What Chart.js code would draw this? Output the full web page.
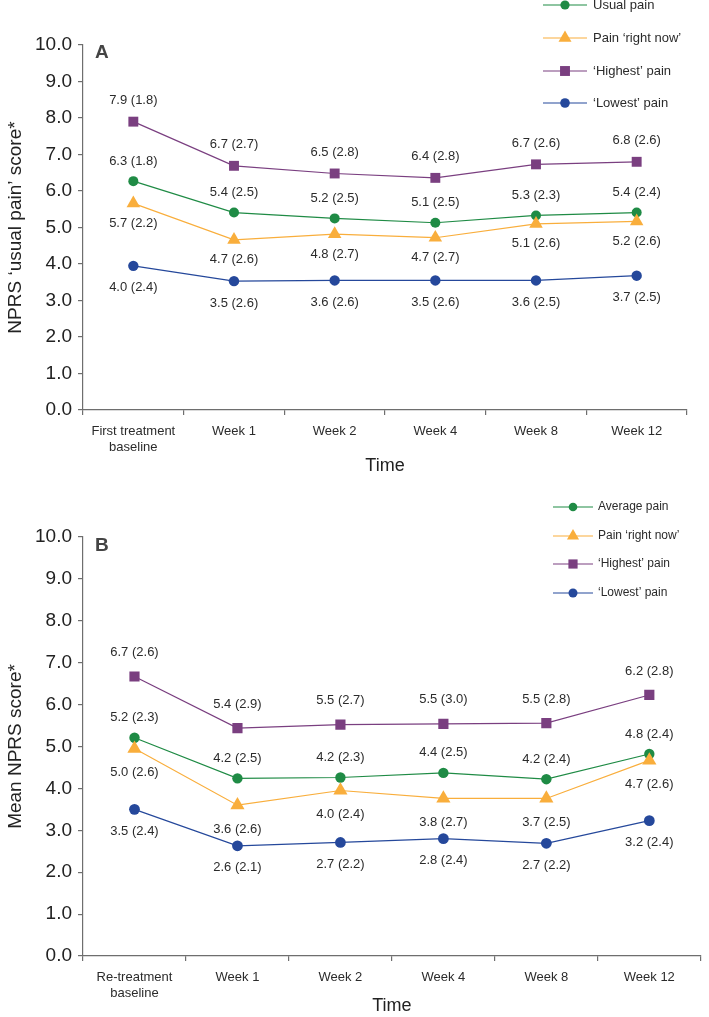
<!DOCTYPE html>
<html>
<head>
<meta charset="utf-8">
<script src="https://cdn.jsdelivr.net/npm/chart.js@4.4.1/dist/chart.umd.min.js"></script>
<style>
  html, body { margin: 0; padding: 0; background: #fff; }
  #wrap { position: relative; width: 709px; height: 1017px; overflow: hidden; }
  canvas { position: absolute; left: 0; }
</style>
</head>
<body>
<div id="wrap">
  <canvas id="cA" width="709" height="490" style="top:0px"></canvas>
  <canvas id="cB" width="709" height="527" style="top:490px"></canvas>
</div>
<script>
// ---------- DATA ----------
const categoriesA = [['First treatment', 'baseline'], 'Week 1', 'Week 2', 'Week 4', 'Week 8', 'Week 12'];
const categoriesB = [['Re-treatment', 'baseline'], 'Week 1', 'Week 2', 'Week 4', 'Week 8', 'Week 12'];
const yTicks = [0, 1, 2, 3, 4, 5, 6, 7, 8, 9, 10];

// Panel A
const usualA      = [6.27, 5.41, 5.25, 5.13, 5.33, 5.41];
const usualA_lbl  = ['6.3', '5.4', '5.2', '5.1', '5.3', '5.4'];
const usualA_sd   = ['1.8', '2.5', '2.5', '2.5', '2.3', '2.4'];
const nowA        = [5.66, 4.66, 4.82, 4.72, 5.10, 5.17];
const nowA_lbl    = ['5.7', '4.7', '4.8', '4.7', '5.1', '5.2'];
const nowA_sd     = ['2.2', '2.6', '2.7', '2.7', '2.6', '2.6'];
const highA       = [7.90, 6.69, 6.48, 6.36, 6.73, 6.80];
const highA_lbl   = ['7.9', '6.7', '6.5', '6.4', '6.7', '6.8'];
const highA_sd    = ['1.8', '2.7', '2.8', '2.8', '2.6', '2.6'];
const lowA        = [3.95, 3.53, 3.55, 3.55, 3.55, 3.68];
const lowA_lbl    = ['4.0', '3.5', '3.6', '3.5', '3.6', '3.7'];
const lowA_sd     = ['2.4', '2.6', '2.6', '2.6', '2.5', '2.5'];

// Panel B
const avgB        = [5.21, 4.24, 4.26, 4.37, 4.22, 4.82];
const avgB_lbl    = ['5.2', '4.2', '4.2', '4.4', '4.2', '4.8'];
const avgB_sd     = ['2.3', '2.5', '2.3', '2.5', '2.4', '2.4'];
const nowB        = [4.95, 3.60, 3.95, 3.76, 3.76, 4.67];
const nowB_lbl    = ['5.0', '3.6', '4.0', '3.8', '3.7', '4.7'];
const nowB_sd     = ['2.6', '2.6', '2.4', '2.7', '2.5', '2.6'];
const highB       = [6.67, 5.44, 5.52, 5.54, 5.56, 6.23];
const highB_lbl   = ['6.7', '5.4', '5.5', '5.5', '5.5', '6.2'];
const highB_sd    = ['2.6', '2.9', '2.7', '3.0', '2.8', '2.8'];
const lowB        = [3.50, 2.63, 2.71, 2.80, 2.69, 3.23];
const lowB_lbl    = ['3.5', '2.6', '2.7', '2.8', '2.7', '3.2'];
const lowB_sd     = ['2.4', '2.1', '2.2', '2.4', '2.2', '2.4'];

// ---------- STYLE ----------
const FONT = "'Liberation Sans', Arial, Helvetica, sans-serif";
const GREEN = '#1f8b45', ORANGE = '#f9ae3c', PURPLE = '#7a3f80', BLUE = '#25489b';
const AXIS = '#6e6e6e', TEXT = '#2b2b2b';

function drawMarker(ctx, style, x, y, r, color) {
  ctx.save();
  ctx.fillStyle = color;
  ctx.beginPath();
  if (style === 'circle') {
    ctx.arc(x, y, r, 0, Math.PI * 2);
  } else if (style === 'rect') {
    const s = r / Math.SQRT2;
    ctx.rect(x - s, y - s, 2 * s, 2 * s);
  } else if (style === 'triangle') {
    ctx.moveTo(x, y - r);
    ctx.lineTo(x + r * Math.sin(Math.PI * 2 / 3), y - r * Math.cos(Math.PI * 2 / 3));
    ctx.lineTo(x + r * Math.sin(Math.PI * 4 / 3), y - r * Math.cos(Math.PI * 4 / 3));
    ctx.closePath();
  }
  ctx.fill();
  ctx.restore();
}

function makeDataset(label, data, color, style, radius, order, lbls, sds, offset) {
  return {
    label, data,
    borderColor: color, backgroundColor: color,
    pointBackgroundColor: color, pointBorderColor: color,
    pointStyle: style, pointRadius: radius, pointHoverRadius: radius,
    pointBorderWidth: 0, borderWidth: 1.2, tension: 0, order,
    valueLabels: lbls, sdLabels: sds, labelOffset: offset
  };
}

const extrasPlugin = {
  id: 'extras',
  afterDatasetsDraw(chart, args, opts) {
    const ctx = chart.ctx;
    // value labels
    ctx.save();
    ctx.font = '13px ' + FONT;
    ctx.fillStyle = TEXT;
    ctx.textAlign = 'center';
    ctx.textBaseline = 'middle';
    chart.data.datasets.forEach((ds, i) => {
      const meta = chart.getDatasetMeta(i);
      meta.data.forEach((pt, j) => {
        ctx.fillText(ds.valueLabels[j] + ' (' + ds.sdLabels[j] + ')', pt.x, pt.y + ds.labelOffset);
      });
    });
    ctx.restore();
    // panel letter
    ctx.save();
    ctx.font = 'bold 19px ' + FONT;
    ctx.fillStyle = '#444';
    ctx.textAlign = 'left';
    ctx.textBaseline = 'middle';
    ctx.fillText(opts.letter, opts.letterX, opts.letterY);
    ctx.restore();
    // legend
    const L = opts.legend;
    ctx.save();
    ctx.font = L.font + 'px ' + FONT;
    ctx.textAlign = 'left';
    ctx.textBaseline = 'middle';
    L.items.forEach((it, k) => {
      const y = L.ys[k];
      ctx.strokeStyle = it.color;
      ctx.lineWidth = 1.2;
      ctx.beginPath();
      ctx.moveTo(L.x0, y); ctx.lineTo(L.x1, y); ctx.stroke();
      drawMarker(ctx, it.style, (L.x0 + L.x1) / 2, y, it.r, it.color);
      ctx.fillStyle = TEXT;
      ctx.fillText(it.text, L.tx, y);
    });
    ctx.restore();
  }
};

function makeOptions(cfg) {
  return {
    responsive: false,
    animation: false,
    devicePixelRatio: 1,
    layout: { padding: { top: cfg.padTop, right: cfg.padRight, left: 0, bottom: 0 } },
    plugins: {
      legend: { display: false },
      tooltip: { enabled: false },
      extras: cfg.extras
    },
    scales: {
      x: {
        type: 'category',
        offset: true,
        grid: { offset: true, drawOnChartArea: false, drawTicks: true, tickLength: 5, color: AXIS, lineWidth: 1.2 },
        border: { color: AXIS, width: 1.2 },
        ticks: { font: { family: FONT, size: 13 }, color: TEXT, padding: 9, maxRotation: 0, autoSkip: false },
        title: { display: true, text: 'Time', font: { family: FONT, size: 18 }, color: '#222', padding: { top: 0, bottom: cfg.timePad } },
        afterFit(scale) { scale.height = cfg.xHeight; }
      },
      y: {
        min: 0, max: 10,
        afterBuildTicks(scale) { scale.ticks = yTicks.map(v => ({ value: v })); },
        grid: { drawOnChartArea: false, drawTicks: true, tickLength: 5, color: AXIS, lineWidth: 1.2 },
        border: { color: AXIS, width: 1.2 },
        ticks: { font: { family: FONT, size: 19 }, color: '#222', padding: 6, callback: v => Number(v).toFixed(1) },
        title: { display: true, text: cfg.yTitle, font: { family: FONT, size: 19 }, color: '#222', padding: { top: 4, bottom: 0 } },
        afterFit(scale) { scale.width = 83; }
      }
    }
  };
}

// ---------- CHART A ----------
new Chart(document.getElementById('cA'), {
  type: 'line',
  data: {
    labels: categoriesA,
    datasets: [
      makeDataset('Usual pain', usualA, GREEN, 'circle', 5, 1, usualA_lbl, usualA_sd, -20),
      makeDataset('Pain ‘right now’', nowA, ORANGE, 'triangle', 7.8, 0, nowA_lbl, nowA_sd, 20),
      makeDataset('‘Highest’ pain', highA, PURPLE, 'rect', 7, 2, highA_lbl, highA_sd, -21),
      makeDataset('‘Lowest’ pain', lowA, BLUE, 'circle', 5.2, 2, lowA_lbl, lowA_sd, 22)
    ]
  },
  options: makeOptions({
    padTop: 45, padRight: 22, xHeight: 80, timePad: 13,
    yTitle: 'NPRS ‘usual pain’ score*',
    extras: {
      letter: 'A', letterX: 95, letterY: 53,
      legend: {
        font: 13, x0: 543, x1: 587, tx: 593, ys: [5, 38, 71, 103],
        items: [
          { text: 'Usual pain', color: GREEN, style: 'circle', r: 4.6 },
          { text: 'Pain ‘right now’', color: ORANGE, style: 'triangle', r: 7.5 },
          { text: '‘Highest’ pain', color: PURPLE, style: 'rect', r: 7 },
          { text: '‘Lowest’ pain', color: BLUE, style: 'circle', r: 4.8 }
        ]
      }
    }
  }),
  plugins: [extrasPlugin]
});

// ---------- CHART B ----------
new Chart(document.getElementById('cB'), {
  type: 'line',
  data: {
    labels: categoriesB,
    datasets: [
      makeDataset('Average pain', avgB, GREEN, 'circle', 5.2, 1, avgB_lbl, avgB_sd, -20),
      makeDataset('Pain ‘right now’', nowB, ORANGE, 'triangle', 8.2, 0, nowB_lbl, nowB_sd, 24),
      makeDataset('‘Highest’ pain', highB, PURPLE, 'rect', 7.2, 2, highB_lbl, highB_sd, -24),
      makeDataset('‘Lowest’ pain', lowB, BLUE, 'circle', 5.4, 2, lowB_lbl, lowB_sd, 22)
    ]
  },
  options: makeOptions({
    padTop: 47, padRight: 7, xHeight: 61, timePad: 0,
    yTitle: 'Mean NPRS score*',
    extras: {
      letter: 'B', letterX: 95, letterY: 56,
      legend: {
        font: 12, x0: 553, x1: 593, tx: 598, ys: [17, 46, 74, 103],
        items: [
          { text: 'Average pain', color: GREEN, style: 'circle', r: 4.3 },
          { text: 'Pain ‘right now’', color: ORANGE, style: 'triangle', r: 7 },
          { text: '‘Highest’ pain', color: PURPLE, style: 'rect', r: 6.5 },
          { text: '‘Lowest’ pain', color: BLUE, style: 'circle', r: 4.5 }
        ]
      }
    }
  }),
  plugins: [extrasPlugin]
});
</script>
</body>
</html>
